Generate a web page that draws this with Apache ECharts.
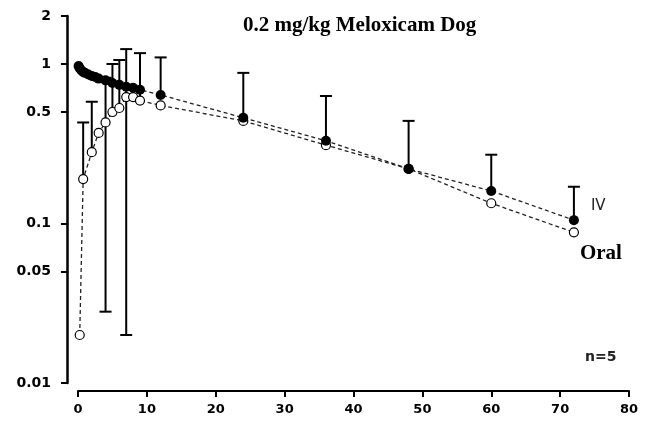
<!DOCTYPE html>
<html>
<head>
<meta charset="utf-8">
<title>0.2 mg/kg Meloxicam Dog</title>
<script src="https://cdn.jsdelivr.net/npm/echarts@6/dist/echarts.min.js"></script>
<style>
  html, body { margin: 0; padding: 0; background: #fff; }
  #mychart { width: 646px; height: 426px; }
</style>
</head>
<body>
<div id="mychart"></div>
<script>
// IV series (filled circles)
const ivHours = [0.083, 0.25, 0.5, 0.75, 1, 1.5, 2, 2.5, 3, 4, 5, 6, 7, 8, 9, 12, 24, 36, 48, 60, 72];
const ivConc = [0.97, 0.94, 0.91, 0.89, 0.88, 0.86, 0.84, 0.83, 0.81, 0.79, 0.76, 0.74, 0.72, 0.71, 0.69, 0.64, 0.46, 0.33, 0.22, 0.16, 0.105];
// Oral series (open circles)
const oralHours = [0.25, 0.75, 2, 3, 4, 5, 6, 7, 8, 9, 12, 24, 36, 48, 60, 72];
const oralConc = [0.02, 0.19, 0.28, 0.37, 0.43, 0.5, 0.53, 0.62, 0.62, 0.59, 0.55, 0.44, 0.31, 0.22, 0.134, 0.088];
// SD bars, oral (lower end only where it stays above zero)
const oralErrHours = [0.75, 2, 4, 5, 6, 7, 9];
const oralErrLow = [null, null, 0.028, null, null, 0.02, null];
const oralErrHigh = [0.43, 0.58, 0.82, 1.0, 1.06, 1.24, 1.17];
// SD bars, IV (upper end)
const ivErrHours = [12, 24, 36, 48, 60, 72];
const ivErrHigh = [1.1, 0.88, 0.63, 0.44, 0.27, 0.17];
// axis ticks
const yTicks = [0.01, 0.05, 0.1, 0.5, 1, 2];
const xTicks = [0, 10, 20, 30, 40, 50, 60, 70, 80];

let myChart;

function pairs(xs, ys) {
  return xs.map((x, i) => [x, ys[i]]);
}

// [hour, low, high, lowCap]
function oralBars() {
  return oralErrHours.map((h, i) => {
    let mean = oralConc[oralHours.indexOf(h)];
    let low = oralErrLow[i];
    return [h, low == null ? mean : low, oralErrHigh[i], low == null ? 0 : 1];
  });
}

function ivBars() {
  return ivErrHours.map((h, i) => [h, ivConc[ivHours.indexOf(h)], ivErrHigh[i], 0]);
}

function renderBar(params, api) {
  let x = api.value(0);
  let lo = api.coord([x, api.value(1)]);
  let hi = api.coord([x, api.value(2)]);
  let st = { stroke: '#000', lineWidth: 2 };
  let children = [
    { type: 'line', shape: { x1: lo[0], y1: lo[1], x2: hi[0], y2: hi[1] }, style: st },
    { type: 'line', shape: { x1: hi[0] - 6, y1: hi[1], x2: hi[0] + 6, y2: hi[1] }, style: st },
  ];
  if (api.value(3)) {
    children.push({ type: 'line', shape: { x1: lo[0] - 6, y1: lo[1], x2: lo[0] + 6, y2: lo[1] }, style: st });
  }
  return { type: 'group', children: children };
}

let option = {
  animation: false,
  backgroundColor: '#fff',
  title: {
    text: '0.2 mg/kg Meloxicam Dog',
    left: 243,
    top: 15,
    padding: 0,
    textStyle: {
      fontFamily: 'Liberation Serif',
      fontWeight: 'bold',
      fontSize: 21,
      color: '#000',
    },
  },
  grid: {
    left: 78,
    right: 17,
    top: 16,
    bottom: 43,
    outerBoundsMode: 'none',
  },
  xAxis: {
    type: 'value',
    min: 0,
    max: 80,
    interval: 10,
    offset: 8,
    splitLine: { show: false },
    axisLine: { show: true, onZero: false, lineStyle: { color: '#000', width: 2 } },
    axisTick: { show: true, length: 6, lineStyle: { color: '#000', width: 2 } },
    axisLabel: {
      customValues: xTicks,
      margin: 12,
      color: '#000',
      fontFamily: 'DejaVu Sans',
      fontWeight: 'bold',
      fontSize: 13,
    },
  },
  yAxis: {
    type: 'log',
    min: 0.01,
    max: 2,
    offset: 11,
    splitLine: { show: false },
    axisLine: { show: true, onZero: false, lineStyle: { color: '#000', width: 2.5 } },
    axisTick: { show: true, length: 6, customValues: yTicks, lineStyle: { color: '#000', width: 2 } },
    axisLabel: {
      customValues: yTicks,
      margin: 16,
      color: '#000',
      fontFamily: 'DejaVu Sans',
      fontWeight: 'bold',
      fontSize: 14,
      formatter: (v) => String(+Number(v).toPrecision(3)),
    },
  },
  graphic: [
    {
      type: 'text',
      left: 585,
      top: 350,
      style: { text: 'n=5', fontFamily: 'DejaVu Sans', fontWeight: 'bold', fontSize: 14, fill: '#222' },
    },
  ],
  series: [
    {
      name: 'IV SD',
      type: 'custom',
      renderItem: renderBar,
      encode: { x: 0, y: [1, 2] },
      data: ivBars(),
      z: 1,
    },
    {
      name: 'Oral SD',
      type: 'custom',
      renderItem: renderBar,
      encode: { x: 0, y: [1, 2] },
      data: oralBars(),
      z: 1,
    },
    {
      name: 'Oral',
      type: 'line',
      data: pairs(oralHours, oralConc),
      symbol: 'circle',
      symbolSize: 9,
      itemStyle: { color: '#fff', borderColor: '#000', borderWidth: 1.2 },
      lineStyle: { color: '#222', width: 1.3, type: [4, 3] },
      endLabel: {
        show: true,
        formatter: 'Oral',
        offset: [-2, 21],
        color: '#000',
        fontFamily: 'Liberation Serif',
        fontWeight: 'bold',
        fontSize: 21,
      },
      z: 3,
    },
    {
      name: 'IV',
      type: 'line',
      data: pairs(ivHours, ivConc),
      symbol: 'circle',
      symbolSize: 10,
      itemStyle: { color: '#000', borderColor: '#000', borderWidth: 0 },
      lineStyle: { color: '#222', width: 1.3, type: [4, 3] },
      endLabel: {
        show: true,
        formatter: 'IV',
        offset: [9, -14],
        color: '#222',
        fontFamily: 'DejaVu Sans',
        fontSize: 15,
      },
      z: 4,
    },
  ],
};

function initChart() {
  let chartDom = document.getElementById('mychart');
  myChart = echarts.init(chartDom);
  myChart.setOption(option);
}

initChart();
</script>
</body>
</html>
